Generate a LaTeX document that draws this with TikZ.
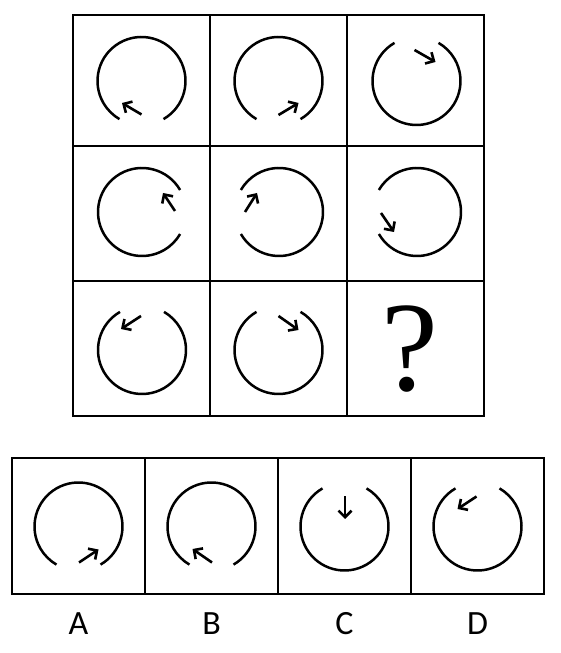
\documentclass[tikz,border=0pt]{standalone}
\usepackage{fontspec}
\setmainfont{Carlito}
\newfontfamily\qfont{Liberation Serif}
\usetikzlibrary{arrows.meta}

\begin{document}
\begin{tikzpicture}[x=1pt,y=1pt]
  \tikzstyle{frame}=[line width=2.6pt]
  \tikzstyle{ring}=[line width=2.5pt]
  \tikzstyle{turn}=[line width=2.6pt,-{Straight Barb[length=6.5pt,width=13pt]}]
  \useasboundingbox (0,0) rectangle (560,653);

  % question grid
  \draw[frame] (73,237) rectangle (484,638);
  \draw[frame] (210,237) -- (210,638);
  \draw[frame] (347,237) -- (347,638);
  \draw[frame] (73,507) -- (484,507);
  \draw[frame] (73,372) -- (484,372);

  % row 1
  \draw[ring] (141.5,572) ++(-60:44) arc[start angle=-60,end angle=240,radius=44];
  \draw[turn] (141.5,538.5) -- (122,550);
  \draw[ring] (278.5,572) ++(-60:44) arc[start angle=-60,end angle=240,radius=44];
  \draw[turn] (278.5,538) -- (298.5,550);
  \draw[ring] (416.5,572) ++(120:44) arc[start angle=120,end angle=420,radius=44];
  \draw[turn] (414.5,603) -- (435.5,591);

  % row 2
  \draw[ring] (142,441) ++(30:44) arc[start angle=30,end angle=330,radius=44];
  \draw[turn] (175,442) -- (163,460);
  \draw[ring] (279,441) ++(-150:44) arc[start angle=-150,end angle=150,radius=44];
  \draw[turn] (245,441) -- (257,460);
  \draw[ring] (417,441) ++(-150:44) arc[start angle=-150,end angle=150,radius=44];
  \draw[turn] (381,440) -- (394,421);

  % row 3
  \draw[ring] (142,303) ++(120:44) arc[start angle=120,end angle=420,radius=44];
  \draw[turn] (141,337) -- (121,324);
  \draw[ring] (278.5,303) ++(120:44) arc[start angle=120,end angle=420,radius=44];
  \draw[turn] (278.5,337) -- (298.5,323);
  \node (q) at (410,304) {\qfont\fontsize{128}{128}\selectfont ?};

  % answer row
  \draw[frame] (12,59) rectangle (544,195);
  \draw[frame] (145,59) -- (145,195);
  \draw[frame] (278,59) -- (278,195);
  \draw[frame] (411,59) -- (411,195);

  \draw[ring] (78.5,126.5) ++(-60:44) arc[start angle=-60,end angle=240,radius=44];
  \draw[turn] (79,90.5) -- (98.5,103.5);
  \draw[ring] (211.5,126.5) ++(-60:44) arc[start angle=-60,end angle=240,radius=44];
  \draw[turn] (212,90.5) -- (192.5,104);
  \draw[ring] (344.5,126.5) ++(120:44) arc[start angle=120,end angle=420,radius=44];
  \draw[turn] (345,156.5) -- (345,134);
  \draw[ring] (477.5,126.5) ++(120:44) arc[start angle=120,end angle=420,radius=44];
  \draw[turn] (476.5,156.5) -- (457.5,144);

  \node (A) at (78.5,29) {\fontsize{34}{34}\selectfont A};
  \node (B) at (211.5,29) {\fontsize{34}{34}\selectfont B};
  \node (C) at (344.5,29) {\fontsize{34}{34}\selectfont C};
  \node (D) at (477.5,29) {\fontsize{34}{34}\selectfont D};
\end{tikzpicture}
\end{document}
